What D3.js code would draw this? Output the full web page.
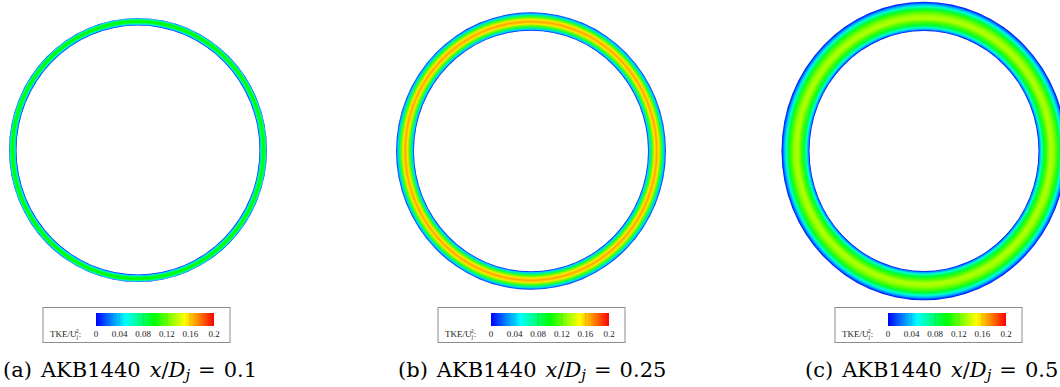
<!DOCTYPE html>
<html>
<head>
<meta charset="utf-8">
<script src="https://cdn.jsdelivr.net/npm/d3@7"></script>
<style>
  html, body { margin: 0; padding: 0; background: #fff; }
  svg { display: block; }
</style>
</head>
<body>
<svg id="fig" width="1060" height="387"></svg>
<script>
// Panel identifiers and captions
const panelKeys = ["a", "b", "c"];
const panelCases = ["AKB1440", "AKB1440", "AKB1440"];
const panelStations = ["0.1", "0.25", "0.5"];

// Radial TKE/Uj^2 profiles across the shear layer: [r/Dj, TKE/Uj^2]
const profileA = [
  [0.486, 0.005], [0.490, 0.040], [0.494, 0.075], [0.498, 0.095],
  [0.502, 0.100], [0.506, 0.095], [0.510, 0.075], [0.513, 0.040], [0.516, 0.005]
];
const profileB = [
  [0.470, 0.005], [0.475, 0.040], [0.482, 0.080], [0.489, 0.120],
  [0.497, 0.155], [0.505, 0.168], [0.513, 0.155], [0.521, 0.120],
  [0.528, 0.080], [0.535, 0.040], [0.542, 0.005]
];
const profileC = [
  [0.458, 0.000], [0.463, 0.030], [0.470, 0.060], [0.480, 0.090],
  [0.492, 0.115], [0.505, 0.135], [0.518, 0.130], [0.530, 0.115],
  [0.541, 0.090], [0.551, 0.060], [0.559, 0.035], [0.565, 0.015], [0.570, 0.000]
];
const profiles = [profileA, profileB, profileC];

// Colour legend
const legendTicks = [0, 0.04, 0.08, 0.12, 0.16, 0.2];
const legendTickLabels = ["0", "0.04", "0.08", "0.12", "0.16", "0.2"];
const colorStops = [0, 0.05, 0.1, 0.15, 0.2];
const colorValues = ["#0000ff", "#00ffff", "#00ff00", "#ffff00", "#ff0000"];

// ---- layout ----
const panelCx = [138, 531, 924];
const panelCy = [150, 151, 151];
const pxPerDjX = [250, 249, 250];
const pxPerDjY = [256, 256, 262];
const legendCx = [136.5, 531.5, 928.5];
const captionX = [3, 398, 805];

const svg = d3.select("#fig");
const defs = svg.append("defs");

const color = d3.scaleLinear().domain(colorStops).range(colorValues).clamp(true);

panelKeys.forEach((key, i) => {
  const prof = profiles[i];
  const rIn = d3.min(prof, d => d[0]);
  const rOut = d3.max(prof, d => d[0]);

  // radial gradient in Dj units; the group transform maps to pixels
  const grad = defs.append("radialGradient")
    .attr("id", "ring-" + key)
    .attr("gradientUnits", "userSpaceOnUse")
    .attr("cx", 0).attr("cy", 0).attr("fx", 0).attr("fy", 0)
    .attr("r", rOut);
  grad.append("stop").attr("offset", 0).attr("stop-color", color(prof[0][1]));
  prof.forEach(d => {
    grad.append("stop")
      .attr("offset", d[0] / rOut)
      .attr("stop-color", color(d[1]));
  });

  const g = svg.append("g")
    .attr("transform", `translate(${panelCx[i]},${panelCy[i]}) scale(${pxPerDjX[i]},${pxPerDjY[i]})`);

  const arc = d3.arc()
    .innerRadius(rIn)
    .outerRadius(rOut)
    .startAngle(0)
    .endAngle(2 * Math.PI);

  g.append("path")
    .attr("d", arc())
    .attr("fill", `url(#ring-${key})`);

  // ---- legend box ----
  const lx = legendCx[i];
  const lg = svg.append("g");
  lg.append("rect")
    .attr("x", lx - 93.5).attr("y", 307.5)
    .attr("width", 187).attr("height", 35)
    .attr("fill", "#fff").attr("stroke", "#8c8c8c").attr("stroke-width", 1);

  const xLeg = d3.scaleLinear().domain([0, 0.2]).range([lx - 40.5, lx + 77.5]);

  const lgrad = defs.append("linearGradient")
    .attr("id", "bar-" + key)
    .attr("gradientUnits", "userSpaceOnUse")
    .attr("x1", xLeg(0)).attr("x2", xLeg(0.2)).attr("y1", 0).attr("y2", 0);
  colorStops.forEach((s, k) => {
    lgrad.append("stop").attr("offset", s / 0.2).attr("stop-color", colorValues[k]);
  });

  lg.append("rect")
    .attr("x", xLeg(0)).attr("y", 313)
    .attr("width", xLeg(0.2) - xLeg(0)).attr("height", 13)
    .attr("fill", `url(#bar-${key})`);

  // faint separators at interior tick levels
  lg.selectAll("line.sep")
    .data(legendTicks.slice(1, -1))
    .enter().append("line")
    .attr("x1", d => xLeg(d)).attr("x2", d => xLeg(d))
    .attr("y1", 313).attr("y2", 326)
    .attr("stroke", "#000").attr("stroke-opacity", 0.12).attr("stroke-width", 0.8);

  lg.selectAll("text.tick")
    .data(legendTicks)
    .enter().append("text")
    .attr("x", d => xLeg(d))
    .attr("y", 337)
    .attr("text-anchor", "middle")
    .attr("font-family", "Liberation Serif, serif")
    .attr("font-size", 9)
    .attr("fill", "#222")
    .text((d, k) => legendTickLabels[k]);

  const lab = lg.append("text")
    .attr("x", lx - 86.5).attr("y", 337)
    .attr("font-family", "Liberation Serif, serif")
    .attr("font-size", 9)
    .attr("fill", "#222");
  lab.append("tspan").text("TKE/U");
  lab.append("tspan").attr("font-size", 6).attr("dy", 2).text("j");
  lab.append("tspan").attr("font-size", 6).attr("dx", -2.5).attr("dy", -6).text("2");
  lab.append("tspan").attr("dy", 4).text(":");

  // ---- caption ----
  const cap = svg.append("text")
    .attr("x", captionX[i]).attr("y", 377)
    .attr("font-family", "DejaVu Serif, serif")
    .attr("font-size", 21)
    .attr("fill", "#000");
  cap.append("tspan").text(`(${key})`);
  cap.append("tspan").attr("dx", 9).text(panelCases[i]);
  cap.append("tspan").attr("dx", 9).attr("font-style", "italic").text("x");
  cap.append("tspan").text("/");
  cap.append("tspan").attr("font-style", "italic").text("D");
  cap.append("tspan").attr("font-style", "italic").attr("font-size", 15).attr("dy", 3).text("j");
  cap.append("tspan").attr("dy", -3).attr("dx", 8).text("=");
  cap.append("tspan").attr("dx", 8).text(panelStations[i]);
});
</script>
</body>
</html>
